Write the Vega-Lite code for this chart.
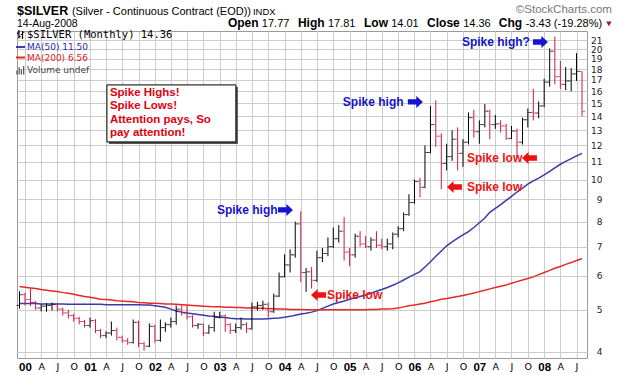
{
  "$schema": "https://vega.github.io/schema/vega-lite/v6.json",
  "width": 570,
  "height": 327,
  "autosize": {"type": "none"},
  "padding": {"left": 17, "top": 31, "right": 33, "bottom": 17},
  "background": "#ffffff",
  "config": {"view": {"stroke": "#9a9a9a", "strokeWidth": 1}},
  "data": {"values": [{}]},
  "datasets": {
    "silver": [
      {"d":"1999-12-01","o":5.12,"h":5.52,"l":5.03,"c":5.42,"m50":5.17,"m200":5.66},
      {"d":"2000-01-01","o":5.42,"h":5.48,"l":5.12,"c":5.28,"m50":5.17,"m200":5.64},
      {"d":"2000-02-01","o":5.28,"h":5.60,"l":5.10,"c":5.20,"m50":5.17,"m200":5.62},
      {"d":"2000-03-01","o":5.20,"h":5.24,"l":5.00,"c":5.05,"m50":5.17,"m200":5.60},
      {"d":"2000-04-01","o":5.05,"h":5.15,"l":4.96,"c":5.10,"m50":5.16,"m200":5.57},
      {"d":"2000-05-01","o":5.10,"h":5.18,"l":4.95,"c":5.12,"m50":5.16,"m200":5.55},
      {"d":"2000-06-01","o":5.12,"h":5.20,"l":4.98,"c":5.15,"m50":5.16,"m200":5.53},
      {"d":"2000-07-01","o":5.15,"h":5.18,"l":4.96,"c":5.02,"m50":5.16,"m200":5.51},
      {"d":"2000-08-01","o":5.02,"h":5.06,"l":4.85,"c":4.92,"m50":5.16,"m200":5.48},
      {"d":"2000-09-01","o":4.92,"h":5.00,"l":4.78,"c":4.85,"m50":5.15,"m200":5.46},
      {"d":"2000-10-01","o":4.85,"h":4.90,"l":4.70,"c":4.78,"m50":5.15,"m200":5.43},
      {"d":"2000-11-01","o":4.78,"h":4.82,"l":4.63,"c":4.70,"m50":5.15,"m200":5.40},
      {"d":"2000-12-01","o":4.70,"h":4.74,"l":4.55,"c":4.60,"m50":5.15,"m200":5.37},
      {"d":"2001-01-01","o":4.60,"h":4.80,"l":4.55,"c":4.72,"m50":5.15,"m200":5.35},
      {"d":"2001-02-01","o":4.72,"h":4.76,"l":4.42,"c":4.48,"m50":5.15,"m200":5.32},
      {"d":"2001-03-01","o":4.48,"h":4.52,"l":4.30,"c":4.36,"m50":5.15,"m200":5.29},
      {"d":"2001-04-01","o":4.36,"h":4.46,"l":4.30,"c":4.42,"m50":5.14,"m200":5.28},
      {"d":"2001-05-01","o":4.42,"h":4.70,"l":4.36,"c":4.48,"m50":5.14,"m200":5.27},
      {"d":"2001-06-01","o":4.48,"h":4.55,"l":4.25,"c":4.32,"m50":5.14,"m200":5.25},
      {"d":"2001-07-01","o":4.32,"h":4.36,"l":4.20,"c":4.24,"m50":5.14,"m200":5.24},
      {"d":"2001-08-01","o":4.24,"h":4.30,"l":4.15,"c":4.20,"m50":5.14,"m200":5.23},
      {"d":"2001-09-01","o":4.20,"h":4.75,"l":4.18,"c":4.68,"m50":5.14,"m200":5.22},
      {"d":"2001-10-01","o":4.68,"h":4.72,"l":4.10,"c":4.18,"m50":5.14,"m200":5.20},
      {"d":"2001-11-01","o":4.18,"h":4.22,"l":4.02,"c":4.12,"m50":5.13,"m200":5.19},
      {"d":"2001-12-01","o":4.12,"h":4.65,"l":4.10,"c":4.58,"m50":5.13,"m200":5.18},
      {"d":"2002-01-01","o":4.58,"h":4.62,"l":4.20,"c":4.25,"m50":5.11,"m200":5.18},
      {"d":"2002-02-01","o":4.25,"h":4.75,"l":4.22,"c":4.55,"m50":5.09,"m200":5.17},
      {"d":"2002-03-01","o":4.55,"h":4.68,"l":4.45,"c":4.62,"m50":5.07,"m200":5.16},
      {"d":"2002-04-01","o":4.62,"h":4.80,"l":4.55,"c":4.70,"m50":5.02,"m200":5.16},
      {"d":"2002-05-01","o":4.70,"h":5.12,"l":4.62,"c":5.02,"m50":4.97,"m200":5.15},
      {"d":"2002-06-01","o":5.02,"h":5.12,"l":4.85,"c":4.92,"m50":4.94,"m200":5.14},
      {"d":"2002-07-01","o":4.92,"h":5.12,"l":4.75,"c":4.82,"m50":4.92,"m200":5.13},
      {"d":"2002-08-01","o":4.82,"h":4.86,"l":4.55,"c":4.60,"m50":4.90,"m200":5.12},
      {"d":"2002-09-01","o":4.60,"h":4.66,"l":4.52,"c":4.63,"m50":4.88,"m200":5.11},
      {"d":"2002-10-01","o":4.63,"h":4.65,"l":4.35,"c":4.42,"m50":4.86,"m200":5.10},
      {"d":"2002-11-01","o":4.42,"h":4.62,"l":4.40,"c":4.55,"m50":4.84,"m200":5.09},
      {"d":"2002-12-01","o":4.55,"h":4.95,"l":4.45,"c":4.80,"m50":4.83,"m200":5.08},
      {"d":"2003-01-01","o":4.80,"h":4.95,"l":4.78,"c":4.84,"m50":4.81,"m200":5.08},
      {"d":"2003-02-01","o":4.84,"h":4.88,"l":4.45,"c":4.62,"m50":4.80,"m200":5.07},
      {"d":"2003-03-01","o":4.62,"h":4.66,"l":4.40,"c":4.48,"m50":4.78,"m200":5.07},
      {"d":"2003-04-01","o":4.48,"h":4.65,"l":4.42,"c":4.55,"m50":4.77,"m200":5.06},
      {"d":"2003-05-01","o":4.55,"h":4.80,"l":4.50,"c":4.62,"m50":4.77,"m200":5.06},
      {"d":"2003-06-01","o":4.62,"h":4.68,"l":4.42,"c":4.52,"m50":4.76,"m200":5.05},
      {"d":"2003-07-01","o":4.52,"h":5.20,"l":4.50,"c":5.08,"m50":4.76,"m200":5.05},
      {"d":"2003-08-01","o":5.08,"h":5.22,"l":4.98,"c":5.12,"m50":4.76,"m200":5.04},
      {"d":"2003-09-01","o":5.12,"h":5.25,"l":5.00,"c":5.15,"m50":4.76,"m200":5.04},
      {"d":"2003-10-01","o":5.15,"h":5.20,"l":4.80,"c":4.95,"m50":4.77,"m200":5.03},
      {"d":"2003-11-01","o":4.95,"h":5.45,"l":4.92,"c":5.38,"m50":4.78,"m200":5.03},
      {"d":"2003-12-01","o":5.38,"h":6.10,"l":5.35,"c":5.96,"m50":4.79,"m200":5.02},
      {"d":"2004-01-01","o":5.96,"h":6.72,"l":5.94,"c":6.35,"m50":4.81,"m200":5.02},
      {"d":"2004-02-01","o":6.35,"h":6.90,"l":6.10,"c":6.70,"m50":4.83,"m200":5.01},
      {"d":"2004-03-01","o":6.70,"h":8.00,"l":6.60,"c":7.90,"m50":4.86,"m200":5.01},
      {"d":"2004-04-01","o":7.90,"h":8.45,"l":5.80,"c":6.10,"m50":4.89,"m200":5.01},
      {"d":"2004-05-01","o":6.10,"h":6.25,"l":5.50,"c":6.12,"m50":4.91,"m200":5.00},
      {"d":"2004-06-01","o":6.12,"h":6.28,"l":5.60,"c":5.85,"m50":4.94,"m200":5.00},
      {"d":"2004-07-01","o":5.85,"h":6.85,"l":5.80,"c":6.60,"m50":4.98,"m200":5.00},
      {"d":"2004-08-01","o":6.60,"h":6.95,"l":6.45,"c":6.75,"m50":5.04,"m200":5.00},
      {"d":"2004-09-01","o":6.75,"h":7.35,"l":6.65,"c":7.00,"m50":5.10,"m200":5.00},
      {"d":"2004-10-01","o":7.00,"h":7.75,"l":6.95,"c":7.30,"m50":5.16,"m200":5.00},
      {"d":"2004-11-01","o":7.30,"h":7.85,"l":7.15,"c":7.60,"m50":5.20,"m200":5.00},
      {"d":"2004-12-01","o":7.60,"h":8.20,"l":6.50,"c":6.80,"m50":5.24,"m200":5.00},
      {"d":"2005-01-01","o":6.80,"h":6.95,"l":6.30,"c":6.70,"m50":5.29,"m200":5.00},
      {"d":"2005-02-01","o":6.70,"h":7.50,"l":6.60,"c":7.40,"m50":5.33,"m200":5.00},
      {"d":"2005-03-01","o":7.40,"h":7.60,"l":7.00,"c":7.10,"m50":5.37,"m200":5.00},
      {"d":"2005-04-01","o":7.10,"h":7.40,"l":6.95,"c":7.00,"m50":5.41,"m200":5.00},
      {"d":"2005-05-01","o":7.00,"h":7.35,"l":6.85,"c":7.25,"m50":5.46,"m200":5.01},
      {"d":"2005-06-01","o":7.25,"h":7.60,"l":6.95,"c":7.05,"m50":5.52,"m200":5.01},
      {"d":"2005-07-01","o":7.05,"h":7.30,"l":6.90,"c":7.00,"m50":5.57,"m200":5.02},
      {"d":"2005-08-01","o":7.00,"h":7.30,"l":6.85,"c":7.10,"m50":5.63,"m200":5.02},
      {"d":"2005-09-01","o":7.10,"h":7.55,"l":6.90,"c":7.48,"m50":5.70,"m200":5.03},
      {"d":"2005-10-01","o":7.48,"h":7.80,"l":7.35,"c":7.70,"m50":5.77,"m200":5.05},
      {"d":"2005-11-01","o":7.70,"h":8.40,"l":7.60,"c":8.30,"m50":5.86,"m200":5.08},
      {"d":"2005-12-01","o":8.30,"h":9.25,"l":8.25,"c":8.85,"m50":5.95,"m200":5.11},
      {"d":"2006-01-01","o":8.85,"h":10.00,"l":8.80,"c":9.90,"m50":6.04,"m200":5.13},
      {"d":"2006-02-01","o":9.90,"h":10.10,"l":9.10,"c":9.60,"m50":6.13,"m200":5.16},
      {"d":"2006-03-01","o":9.60,"h":12.00,"l":9.55,"c":11.55,"m50":6.28,"m200":5.18},
      {"d":"2006-04-01","o":11.55,"h":14.80,"l":11.50,"c":13.40,"m50":6.46,"m200":5.22},
      {"d":"2006-05-01","o":13.40,"h":15.25,"l":11.90,"c":12.60,"m50":6.65,"m200":5.25},
      {"d":"2006-06-01","o":12.60,"h":12.80,"l":9.50,"c":10.90,"m50":6.84,"m200":5.29},
      {"d":"2006-07-01","o":10.90,"h":12.10,"l":10.50,"c":11.30,"m50":7.03,"m200":5.31},
      {"d":"2006-08-01","o":11.30,"h":13.00,"l":11.05,"c":12.40,"m50":7.18,"m200":5.34},
      {"d":"2006-09-01","o":12.40,"h":13.20,"l":10.50,"c":11.50,"m50":7.32,"m200":5.37},
      {"d":"2006-10-01","o":11.50,"h":12.40,"l":10.70,"c":12.20,"m50":7.45,"m200":5.40},
      {"d":"2006-11-01","o":12.20,"h":14.30,"l":12.05,"c":13.90,"m50":7.58,"m200":5.43},
      {"d":"2006-12-01","o":13.90,"h":14.50,"l":12.50,"c":12.90,"m50":7.75,"m200":5.47},
      {"d":"2007-01-01","o":12.90,"h":13.70,"l":12.10,"c":13.40,"m50":7.95,"m200":5.51},
      {"d":"2007-02-01","o":13.40,"h":14.95,"l":13.20,"c":14.40,"m50":8.15,"m200":5.55},
      {"d":"2007-03-01","o":14.40,"h":14.50,"l":12.40,"c":13.40,"m50":8.40,"m200":5.59},
      {"d":"2007-04-01","o":13.40,"h":14.10,"l":13.10,"c":13.45,"m50":8.58,"m200":5.63},
      {"d":"2007-05-01","o":13.45,"h":13.70,"l":12.85,"c":13.30,"m50":8.75,"m200":5.67},
      {"d":"2007-06-01","o":13.30,"h":13.45,"l":12.35,"c":12.45,"m50":8.95,"m200":5.71},
      {"d":"2007-07-01","o":12.45,"h":13.30,"l":12.40,"c":12.95,"m50":9.15,"m200":5.76},
      {"d":"2007-08-01","o":12.95,"h":13.10,"l":11.20,"c":12.20,"m50":9.36,"m200":5.81},
      {"d":"2007-09-01","o":12.20,"h":13.90,"l":12.05,"c":13.75,"m50":9.56,"m200":5.86},
      {"d":"2007-10-01","o":13.75,"h":14.60,"l":13.20,"c":14.30,"m50":9.76,"m200":5.91},
      {"d":"2007-11-01","o":14.30,"h":16.20,"l":13.70,"c":14.25,"m50":9.93,"m200":5.96},
      {"d":"2007-12-01","o":14.25,"h":15.15,"l":13.85,"c":14.80,"m50":10.08,"m200":6.03},
      {"d":"2008-01-01","o":14.80,"h":17.10,"l":14.70,"c":16.80,"m50":10.25,"m200":6.10},
      {"d":"2008-02-01","o":16.80,"h":20.10,"l":16.40,"c":19.80,"m50":10.45,"m200":6.17},
      {"d":"2008-03-01","o":19.80,"h":21.40,"l":16.60,"c":17.30,"m50":10.65,"m200":6.24},
      {"d":"2008-04-01","o":17.30,"h":18.80,"l":16.20,"c":16.60,"m50":10.85,"m200":6.30},
      {"d":"2008-05-01","o":16.60,"h":18.20,"l":16.10,"c":16.90,"m50":11.02,"m200":6.37},
      {"d":"2008-06-01","o":16.90,"h":18.10,"l":16.00,"c":17.55,"m50":11.18,"m200":6.43},
      {"d":"2008-07-01","o":17.55,"h":19.60,"l":16.90,"c":17.80,"m50":11.35,"m200":6.50},
      {"d":"2008-08-01","o":17.77,"h":17.81,"l":14.01,"c":14.36,"m50":11.50,"m200":6.56}
    ],
    "notes": [
      {"d":"2002-12-16","p":8.51,"t":"Spike high","k":"high"},
      {"d":"2004-11-24","p":15.12,"t":"Spike high","k":"high"},
      {"d":"2006-09-25","p":20.80,"t":"Spike high?","k":"high"},
      {"d":"2004-08-26","p":5.41,"t":"Spike low","k":"low"},
      {"d":"2006-10-23","p":9.61,"t":"Spike low","k":"low"},
      {"d":"2006-10-23","p":11.22,"t":"Spike low","k":"low"}
    ],
    "arrows": [
      {"d":"2004-01-06","p":8.51,"dir":"right","k":"high"},
      {"d":"2006-01-06","p":15.12,"dir":"right","k":"high"},
      {"d":"2007-12-11","p":20.80,"dir":"right","k":"high"},
      {"d":"2004-07-10","p":5.41,"dir":"left","k":"low"},
      {"d":"2006-08-14","p":9.61,"dir":"left","k":"low"},
      {"d":"2007-10-10","p":11.22,"dir":"left","k":"low"}
    ],
    "box": [
      {"d0":"2001-04-06","d1":"2003-04-02","p0":16.55,"p1":12.22,"t":"Spike Highs!\nSpike Lows!\nAttention pays, So\npay attention!"}
    ]
  },
  "layer": [
    {
      "data": {"name": "silver"},
      "transform": [{"fold": ["m50", "m200"], "as": ["series", "value"]}],
      "mark": {"type": "line", "strokeWidth": 1.5},
      "encoding": {
        "x": {
          "field": "d", "type": "temporal",
          "scale": {"type": "utc", "nice": false, "domain": [{"year": 1999, "month": 11, "date": 17, "utc": true}, {"year": 2008, "month": 8, "date": 29, "utc": true}]},
          "axis": {
            "title": null,
            "tickCount": {"interval": "month", "step": 3},
            "labelExpr": "utcmonth(datum.value) == 0 ? utcFormat(datum.value, '%y') : (utcmonth(datum.value) == 3 ? 'A' : (utcmonth(datum.value) == 6 ? 'J' : 'O'))",
            "labelFontWeight": {"condition": {"test": "utcmonth(datum.value) == 0", "value": "bold"}, "value": "normal"},
            "labelFont": {"condition": {"test": "utcmonth(datum.value) == 0", "value": "Liberation Sans"}, "value": "DejaVu Sans"},
            "labelFontSize": {"condition": {"test": "utcmonth(datum.value) == 0", "value": 11.5}, "value": 9.5},
            "labelColor": "#000000",
            "labelAngle": 0,
            "ticks": false,
            "domain": false,
            "labelPadding": 3,
            "labelOverlap": false,
            "labelFlush": false,
            "labelBound": false,
            "grid": true,
            "gridColor": "#cccccc",
            "gridWidth": 1
          }
        },
        "y": {
          "field": "value", "type": "quantitative",
          "scale": {"type": "log", "domain": [3.87, 22.05], "nice": false},
          "axis": {
            "orient": "right",
            "title": null,
            "values": [4, 5, 6, 7, 8, 9, 10, 11, 12, 13, 14, 15, 16, 17, 18, 19, 20, 21],
            "format": "d",
            "labelAlign": "right",
            "labelPadding": 15,
            "labelFont": "DejaVu Sans",
            "labelFontSize": 9,
            "labelColor": "#222222",
            "labelOverlap": false,
            "labelBound": false,
            "ticks": false,
            "domain": false,
            "grid": true,
            "gridColor": "#cccccc",
            "gridWidth": 1
          }
        },
        "color": {
          "field": "series", "type": "nominal",
          "scale": {"domain": ["sv", "m50", "m200", "vol"], "range": ["#000000", "#3a3aa8", "#e62828", "#555555"]},
          "legend": {
            "title": null,
            "orient": "top-left",
            "offset": -1,
            "padding": 0,
            "symbolType": "stroke",
            "symbolSize": 81,
            "symbolStrokeWidth": 2,
            "labelFont": "DejaVu Sans",
            "labelFontSize": 9,
            "labelOffset": 2,
            "rowPadding": 0.5,
            "labelExpr": "datum.label == 'sv' ? '$SILVER (Monthly) 14.36' : (datum.label == 'm50' ? 'MA(50) 11.50' : (datum.label == 'm200' ? 'MA(200) 6.56' : 'Volume undef'))",
            "encode": {
              "symbols": {
                "update": {
                  "shape": {"signal": "datum.value == 'sv' ? 'M-0.35,-1L-0.35,0.9M-0.8,-0.3L-0.35,-0.3M-0.35,0.5L0.1,0.5M0.45,-0.7L0.45,1M0.05,0L0.45,0M0.45,-0.5L0.85,-0.5' : (datum.value == 'vol' ? 'M-0.8,1L-0.8,0.1M-0.3,1L-0.3,-0.6M0.2,1L0.2,-0.1M0.7,1L0.7,-0.9' : 'stroke')"},
                  "strokeWidth": {"signal": "datum.value == 'sv' || datum.value == 'vol' ? 1.2 : 2"}
                }
              },
              "labels": {
                "update": {
                  "fill": {"signal": "datum.value == 'm50' ? '#2b2bb0' : (datum.value == 'm200' ? '#e01818' : (datum.value == 'sv' ? '#000000' : '#444444'))"},
                  "fontSize": {"signal": "datum.value == 'sv' ? 10.5 : 9"},
                  "font": {"signal": "datum.value == 'sv' ? 'DejaVu Sans Mono' : 'DejaVu Sans'"}
                }
              }
            }
          }
        }
      }
    },
    {
      "data": {"name": "silver"},
      "mark": {"type": "rule", "strokeWidth": 1},
      "encoding": {
        "x": {"field": "d", "type": "temporal"},
        "y": {"field": "l", "type": "quantitative"},
        "y2": {"field": "h"},
        "color": {"condition": {"test": "datum.c < datum.o", "value": "#cc1a44"}, "value": "#000000"}
      }
    },
    {
      "data": {"name": "silver"},
      "mark": {"type": "tick", "orient": "horizontal", "size": 2.5, "thickness": 1, "xOffset": -1.75},
      "encoding": {
        "x": {"field": "d", "type": "temporal"},
        "y": {"field": "o", "type": "quantitative"},
        "color": {"condition": {"test": "datum.c < datum.o", "value": "#cc1a44"}, "value": "#000000"}
      }
    },
    {
      "data": {"name": "silver"},
      "mark": {"type": "tick", "orient": "horizontal", "size": 2.5, "thickness": 1, "xOffset": 1.75},
      "encoding": {
        "x": {"field": "d", "type": "temporal"},
        "y": {"field": "c", "type": "quantitative"},
        "color": {"condition": {"test": "datum.c < datum.o", "value": "#cc1a44"}, "value": "#000000"}
      }
    },
    {
      "data": {"name": "box"},
      "mark": {"type": "rect", "fill": "#555555", "xOffset": 2, "x2Offset": 2, "yOffset": 2, "y2Offset": 2},
      "encoding": {
        "x": {"field": "d0", "type": "temporal"},
        "x2": {"field": "d1"},
        "y": {"field": "p0", "type": "quantitative"},
        "y2": {"field": "p1"}
      }
    },
    {
      "data": {"name": "box"},
      "mark": {"type": "rect", "fill": "#ffffff", "stroke": "#000000", "strokeWidth": 1},
      "encoding": {
        "x": {"field": "d0", "type": "temporal"},
        "x2": {"field": "d1"},
        "y": {"field": "p0", "type": "quantitative"},
        "y2": {"field": "p1"}
      }
    },
    {
      "data": {"name": "box"},
      "mark": {"type": "text", "align": "left", "baseline": "top", "dx": 3, "dy": 2, "font": "Liberation Sans", "fontWeight": "bold", "fontSize": 11.5, "lineHeight": 13.5, "lineBreak": "\n", "color": "#e00010"},
      "encoding": {
        "x": {"field": "d0", "type": "temporal"},
        "y": {"field": "p0", "type": "quantitative"},
        "text": {"field": "t"}
      }
    },
    {
      "data": {"name": "notes"},
      "mark": {"type": "text", "align": "left", "baseline": "middle", "font": "Liberation Sans", "fontWeight": "bold", "fontSize": 12},
      "encoding": {
        "x": {"field": "d", "type": "temporal"},
        "y": {"field": "p", "type": "quantitative"},
        "text": {"field": "t"},
        "color": {"condition": {"test": "datum.k == 'high'", "value": "#1414c8"}, "value": "#ee1111"}
      }
    },
    {
      "data": {"name": "arrows"},
      "transform": [{"filter": "datum.dir == 'right'"}],
      "mark": {"type": "point", "shape": "M-1,-0.36L0.12,-0.36L0.12,-0.8L1,0L0.12,0.8L0.12,0.36L-1,0.36Z", "filled": true, "size": 225, "opacity": 1},
      "encoding": {
        "x": {"field": "d", "type": "temporal"},
        "y": {"field": "p", "type": "quantitative"},
        "color": {"condition": {"test": "datum.k == 'high'", "value": "#1414d2"}, "value": "#ee1111"}
      }
    },
    {
      "data": {"name": "arrows"},
      "transform": [{"filter": "datum.dir == 'left'"}],
      "mark": {"type": "point", "shape": "M1,-0.36L-0.12,-0.36L-0.12,-0.8L-1,0L-0.12,0.8L-0.12,0.36L1,0.36Z", "filled": true, "size": 225, "opacity": 1},
      "encoding": {
        "x": {"field": "d", "type": "temporal"},
        "y": {"field": "p", "type": "quantitative"},
        "color": {"condition": {"test": "datum.k == 'high'", "value": "#1414d2"}, "value": "#ee1111"}
      }
    },
    {
      "mark": {"type": "text", "align": "left", "baseline": "alphabetic", "font": "Liberation Sans", "fontWeight": "bold", "fontSize": 12.5, "color": "#000000"},
      "encoding": {"x": {"datum": {"year": 1999, "month": 11, "date": 17, "utc": true}, "type": "temporal"}, "y": {"datum": 24.01, "type": "quantitative"}, "text": {"value": "$SILVER"}}
    },
    {
      "mark": {"type": "text", "align": "left", "baseline": "alphabetic", "font": "Liberation Sans", "fontSize": 11, "color": "#000000"},
      "encoding": {"x": {"datum": {"year": 2000, "month": 9, "date": 21, "utc": true}, "type": "temporal"}, "y": {"datum": 24.01, "type": "quantitative"}, "text": {"value": "(Silver - Continuous Contract (EOD))"}}
    },
    {
      "mark": {"type": "text", "align": "left", "baseline": "alphabetic", "font": "Liberation Sans", "fontSize": 9.5, "color": "#000000"},
      "encoding": {"x": {"datum": {"year": 2003, "month": 7, "date": 7, "utc": true}, "type": "temporal"}, "y": {"datum": 24.01, "type": "quantitative"}, "text": {"value": "INDX"}}
    },
    {
      "mark": {"type": "text", "align": "left", "baseline": "alphabetic", "font": "Liberation Sans", "fontSize": 10.5, "color": "#000000"},
      "encoding": {"x": {"datum": {"year": 1999, "month": 11, "date": 17, "utc": true}, "type": "temporal"}, "y": {"datum": 22.53, "type": "quantitative"}, "text": {"value": "14-Aug-2008"}}
    },
    {
      "mark": {"type": "text", "align": "left", "baseline": "alphabetic", "font": "Liberation Sans", "fontWeight": "bold", "fontSize": 12, "color": "#000000"},
      "encoding": {"x": {"datum": {"year": 2003, "month": 2, "date": 16, "utc": true}, "type": "temporal"}, "y": {"datum": 22.53, "type": "quantitative"}, "text": {"value": "Open"}}
    },
    {
      "mark": {"type": "text", "align": "left", "baseline": "alphabetic", "font": "Liberation Sans", "fontSize": 11, "color": "#000000"},
      "encoding": {"x": {"datum": {"year": 2003, "month": 8, "date": 26, "utc": true}, "type": "temporal"}, "y": {"datum": 22.53, "type": "quantitative"}, "text": {"value": "17.77"}}
    },
    {
      "mark": {"type": "text", "align": "left", "baseline": "alphabetic", "font": "Liberation Sans", "fontWeight": "bold", "fontSize": 12, "color": "#000000"},
      "encoding": {"x": {"datum": {"year": 2004, "month": 3, "date": 16, "utc": true}, "type": "temporal"}, "y": {"datum": 22.53, "type": "quantitative"}, "text": {"value": "High"}}
    },
    {
      "mark": {"type": "text", "align": "left", "baseline": "alphabetic", "font": "Liberation Sans", "fontSize": 11, "color": "#000000"},
      "encoding": {"x": {"datum": {"year": 2004, "month": 9, "date": 1, "utc": true}, "type": "temporal"}, "y": {"datum": 22.53, "type": "quantitative"}, "text": {"value": "17.81"}}
    },
    {
      "mark": {"type": "text", "align": "left", "baseline": "alphabetic", "font": "Liberation Sans", "fontWeight": "bold", "fontSize": 12, "color": "#000000"},
      "encoding": {"x": {"datum": {"year": 2005, "month": 3, "date": 23, "utc": true}, "type": "temporal"}, "y": {"datum": 22.53, "type": "quantitative"}, "text": {"value": "Low"}}
    },
    {
      "mark": {"type": "text", "align": "left", "baseline": "alphabetic", "font": "Liberation Sans", "fontSize": 11, "color": "#000000"},
      "encoding": {"x": {"datum": {"year": 2005, "month": 8, "date": 23, "utc": true}, "type": "temporal"}, "y": {"datum": 22.53, "type": "quantitative"}, "text": {"value": "14.01"}}
    },
    {
      "mark": {"type": "text", "align": "left", "baseline": "alphabetic", "font": "Liberation Sans", "fontWeight": "bold", "fontSize": 12, "color": "#000000"},
      "encoding": {"x": {"datum": {"year": 2006, "month": 3, "date": 13, "utc": true}, "type": "temporal"}, "y": {"datum": 22.53, "type": "quantitative"}, "text": {"value": "Close"}}
    },
    {
      "mark": {"type": "text", "align": "left", "baseline": "alphabetic", "font": "Liberation Sans", "fontSize": 11, "color": "#000000"},
      "encoding": {"x": {"datum": {"year": 2006, "month": 10, "date": 2, "utc": true}, "type": "temporal"}, "y": {"datum": 22.53, "type": "quantitative"}, "text": {"value": "14.36"}}
    },
    {
      "mark": {"type": "text", "align": "left", "baseline": "alphabetic", "font": "Liberation Sans", "fontWeight": "bold", "fontSize": 12, "color": "#000000"},
      "encoding": {"x": {"datum": {"year": 2007, "month": 4, "date": 21, "utc": true}, "type": "temporal"}, "y": {"datum": 22.53, "type": "quantitative"}, "text": {"value": "Chg"}}
    },
    {
      "mark": {"type": "text", "align": "left", "baseline": "alphabetic", "font": "Liberation Sans", "fontSize": 11, "color": "#000000"},
      "encoding": {"x": {"datum": {"year": 2007, "month": 9, "date": 19, "utc": true}, "type": "temporal"}, "y": {"datum": 22.53, "type": "quantitative"}, "text": {"value": "-3.43 (-19.28%)"}}
    },
    {
      "mark": {"type": "point", "shape": "triangle-down", "filled": true, "size": 30, "opacity": 1, "color": "#a8123a"},
      "encoding": {"x": {"datum": {"year": 2008, "month": 12, "date": 30, "utc": true}, "type": "temporal"}, "y": {"datum": 22.89, "type": "quantitative"}}
    },
    {
      "mark": {"type": "text", "align": "right", "baseline": "alphabetic", "font": "Liberation Sans", "fontSize": 11.5, "color": "#777777"},
      "encoding": {"x": {"datum": {"year": 2009, "month": 1, "date": 16, "utc": true}, "type": "temporal"}, "y": {"datum": 24.23, "type": "quantitative"}, "text": {"value": "©StockCharts.com"}}
    }
  ]
}
